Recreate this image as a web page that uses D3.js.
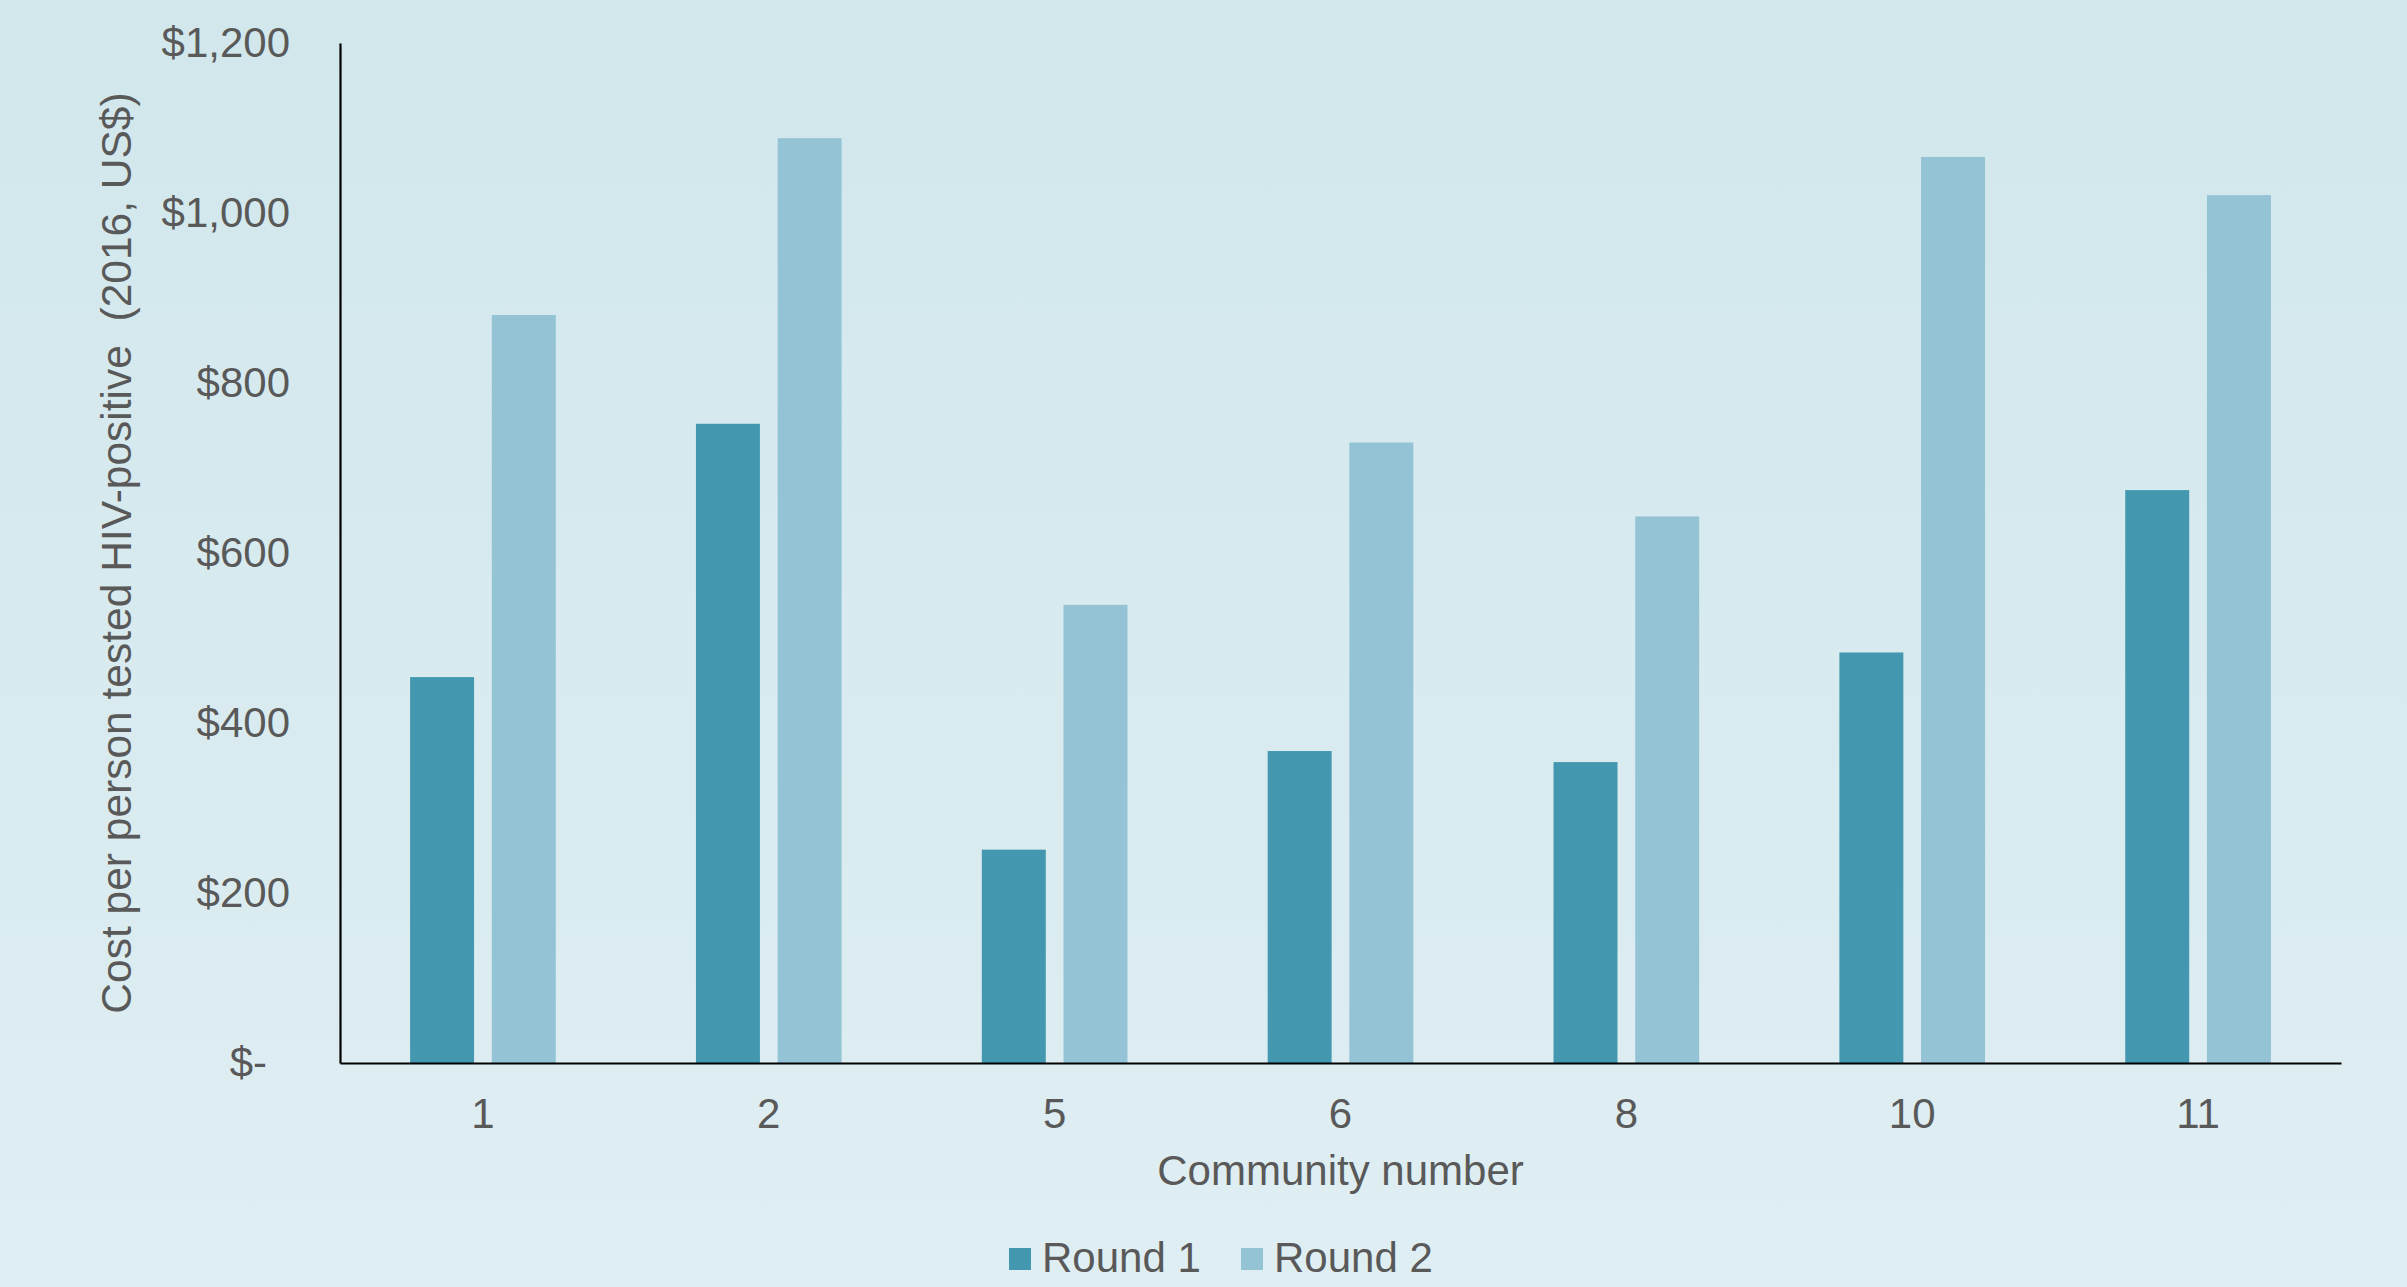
<!DOCTYPE html>
<html>
<head>
<meta charset="utf-8">
<script src="https://cdn.jsdelivr.net/npm/d3@7"></script>
<style>
  html, body { margin: 0; padding: 0; overflow: hidden; }
  svg { display: block; font-family: "Liberation Sans", Arial, sans-serif; }
</style>
</head>
<body>
<div id="chart-area"></div>
<script>
// data
const communities = ['1', '2', '5', '6', '8', '10', '11'];
const seriesNames = ['Round 1', 'Round 2'];
const round1 = [454, 752, 251, 367, 354, 483, 674];
const round2 = [880, 1088, 539, 730, 643, 1066, 1021];
const yTicks = [0, 200, 400, 600, 800, 1000, 1200];

const colors = ['#4398af', '#93c3d5'];
const textColor = '#595959';

const W = 2407;
const H = 1287;

// plot area in page coordinates
const margin = { left: 340, right: 66, top: 43, bottom: 224 };
const width = W - margin.left - margin.right;
const height = H - margin.top - margin.bottom;

const svg = d3.select('#chart-area')
    .append('svg')
        .attr('width', W)
        .attr('height', H);

// background gradient
const grad = svg.append('defs')
    .append('linearGradient')
        .attr('id', 'bg')
        .attr('x1', 0).attr('y1', 0)
        .attr('x2', 0).attr('y2', 1);
grad.append('stop').attr('offset', '0%').attr('stop-color', '#d1e7ec');
grad.append('stop').attr('offset', '100%').attr('stop-color', '#dfeef2');

svg.append('rect')
    .attr('width', W)
    .attr('height', H)
    .attr('fill', 'url(#bg)');

const g = svg.append('g')
    .attr('transform', `translate(${margin.left}, ${margin.top})`);

// scales
const x0 = d3.scaleBand()
    .domain(communities)
    .range([0, width])
    .padding(0);

const x1 = d3.scaleBand()
    .domain(seriesNames)
    .range([0, x0.bandwidth()])
    .paddingInner(0.217)
    .paddingOuter(0.858);

const y = d3.scaleLinear()
    .domain([0, 1200])
    .range([height, 0]);

// bars
const rows = communities.map((c, i) => ({
    community: c,
    values: [
        { name: seriesNames[0], value: round1[i] },
        { name: seriesNames[1], value: round2[i] }
    ]
}));

const groups = g.selectAll('g.group')
    .data(rows)
    .enter()
        .append('g')
            .attr('class', 'group')
            .attr('transform', d => `translate(${x0(d.community)}, 0)`);

groups.selectAll('rect')
    .data(d => d.values)
    .enter()
        .append('rect')
            .attr('x', d => x1(d.name))
            .attr('y', d => y(d.value))
            .attr('width', x1.bandwidth())
            .attr('height', d => height - y(d.value))
            .attr('fill', (d, i) => colors[i]);

// y axis
const yAxisCall = d3.axisLeft(y)
    .tickValues(yTicks)
    .tickSize(0)
    .tickPadding(50)
    .tickFormat(d => d === 0 ? '$-' : '$' + d3.format(',')(d));

const yAxis = g.append('g')
    .attr('class', 'y axis')
    .call(yAxisCall);

// x axis
const xAxisCall = d3.axisBottom(x0)
    .tickSize(0)
    .tickPadding(35);

const xAxis = g.append('g')
    .attr('class', 'x axis')
    .attr('transform', `translate(0, ${height})`)
    .call(xAxisCall);

[yAxis, xAxis].forEach(ax => {
    ax.select('.domain')
        .attr('stroke', '#000')
        .attr('stroke-width', 2.2);
    ax.selectAll('text')
        .attr('font-size', '42px')
        .attr('font-family', '"Liberation Sans", Arial, sans-serif')
        .attr('fill', textColor);
});

// accounting style zero
yAxis.selectAll('.tick text')
    .filter(d => d === 0)
    .attr('dx', -23);

// x label
g.append('text')
    .attr('x', width / 2)
    .attr('y', height + 122)
    .attr('font-size', '42px')
    .attr('text-anchor', 'middle')
    .attr('fill', textColor)
    .text('Community number');

// y label
g.append('text')
    .attr('transform', `translate(${131 - margin.left}, ${height / 2}) rotate(-90)`)
    .attr('font-size', '42.5px')
    .attr('text-anchor', 'middle')
    .attr('fill', textColor)
    .attr('xml:space', 'preserve')
    .style('white-space', 'pre')
    .text('Cost per person tested HIV-positive  (2016, US$)');

// legend
const legendX = [1009, 1241];
const legend = svg.selectAll('g.legend')
    .data(seriesNames)
    .enter()
        .append('g')
            .attr('class', 'legend')
            .attr('transform', (d, i) => `translate(${legendX[i]}, 1248)`);

legend.append('rect')
    .attr('width', 22)
    .attr('height', 22)
    .attr('fill', (d, i) => colors[i]);

legend.append('text')
    .attr('x', 33)
    .attr('y', 24)
    .attr('font-size', '42px')
    .attr('fill', textColor)
    .text(d => d);
</script>
</body>
</html>
